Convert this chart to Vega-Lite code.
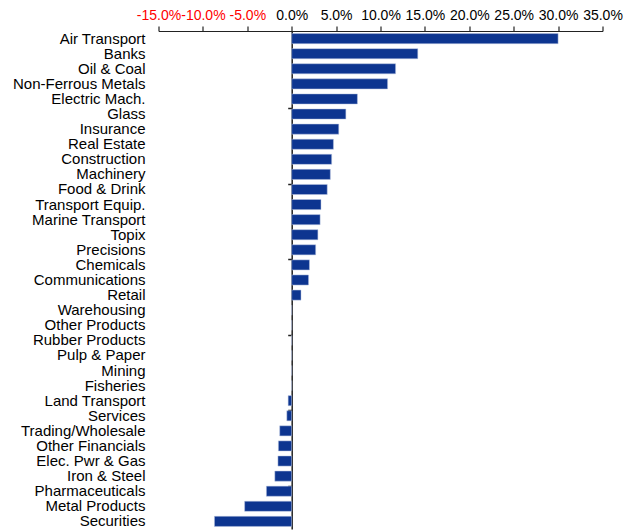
{
  "$schema": "https://vega.github.io/schema/vega-lite/v6.json",
  "autosize": {"type": "none"},
  "padding": {"left": 158.5, "top": 31, "right": 33, "bottom": 2},
  "width": 444,
  "height": 498,
  "config": {
    "view": {"stroke": null},
    "font": "Liberation Sans",
    "axis": {"grid": false, "titleFont": "Liberation Sans", "labelFont": "Liberation Sans"}
  },
  "data": {
    "values": [
      {"cat": "Air Transport", "v": 30.0},
      {"cat": "Banks", "v": 14.2},
      {"cat": "Oil & Coal ", "v": 11.7},
      {"cat": "Non-Ferrous Metals", "v": 10.8},
      {"cat": "Electric Mach.", "v": 7.4},
      {"cat": "Glass", "v": 6.1},
      {"cat": "Insurance", "v": 5.3},
      {"cat": "Real Estate", "v": 4.7},
      {"cat": "Construction", "v": 4.5},
      {"cat": "Machinery", "v": 4.35},
      {"cat": "Food & Drink", "v": 4.0},
      {"cat": "Transport Equip.", "v": 3.3},
      {"cat": "Marine Transport", "v": 3.2},
      {"cat": "Topix", "v": 2.95},
      {"cat": "Precisions", "v": 2.7},
      {"cat": "Chemicals", "v": 2.0},
      {"cat": "Communications", "v": 1.9},
      {"cat": "Retail", "v": 1.05},
      {"cat": "Warehousing", "v": 0},
      {"cat": "Other Products", "v": 0},
      {"cat": "Rubber Products", "v": 0},
      {"cat": "Pulp & Paper", "v": 0},
      {"cat": "Mining", "v": 0},
      {"cat": "Fisheries", "v": 0},
      {"cat": "Land Transport", "v": -0.4},
      {"cat": "Services", "v": -0.55},
      {"cat": "Trading/Wholesale", "v": -1.35},
      {"cat": "Other Financials", "v": -1.5},
      {"cat": "Elec. Pwr & Gas", "v": -1.55},
      {"cat": "Iron & Steel", "v": -1.9},
      {"cat": "Pharmaceuticals", "v": -2.85},
      {"cat": "Metal Products", "v": -5.3},
      {"cat": "Securities", "v": -8.7}
    ]
  },
  "layer": [
    {
      "mark": {"type": "bar", "color": "#0d3590", "stroke": "#b8c4e0", "strokeWidth": 0.5},
      "encoding": {
        "y": {
          "field": "cat", "type": "nominal", "sort": null,
          "scale": {"paddingInner": 0.33, "paddingOuter": 0.17},
          "axis": {
            "orient": "left", "title": null, "domain": false, "ticks": false,
            "labelPadding": 13.5, "labelFontSize": 15, "labelColor": "#000000",
            "labelLimit": 300
          }
        },
        "x": {
          "field": "v", "type": "quantitative",
          "scale": {"domain": [-15, 35], "nice": false, "zero": false},
          "axis": {
            "orient": "top", "title": null,
            "values": [-15, -10, -5, 0, 5, 10, 15, 20, 25, 30, 35],
            "labelExpr": "(datum.value < 0 ? '-' : '') + format(abs(datum.value), '.1f') + '%'",
            "labelFontSize": 14,
            "labelColor": {"condition": {"test": "datum.value < 0", "value": "#ff0000"}, "value": "#000000"},
            "labelPadding": 4, "tickSize": 5, "tickColor": "#222222", "domainColor": "#222222",
            "domainWidth": 1.2, "tickWidth": 1.2, "labelOverlap": false, "labelFlush": false
          }
        }
      }
    },
    {
      "mark": {"type": "bar", "opacity": 0},
      "encoding": {
        "y": {
          "field": "cat", "type": "nominal", "sort": null,
          "axis": {
            "orient": "left", "title": null, "labels": false, "offset": -133.2,
            "domain": true, "domainColor": "#222222", "domainWidth": 1.5,
            "ticks": true, "tickSize": 4, "tickColor": "#222222", "tickWidth": 1.5,
            "bandPosition": 0,
            "values": ["Glass", "Food & Drink", "Chemicals", "Rubber Products", "Services", "Pharmaceuticals"]
          }
        }
      }
    }
  ],
  "resolve": {"axis": {"y": "independent"}}
}
